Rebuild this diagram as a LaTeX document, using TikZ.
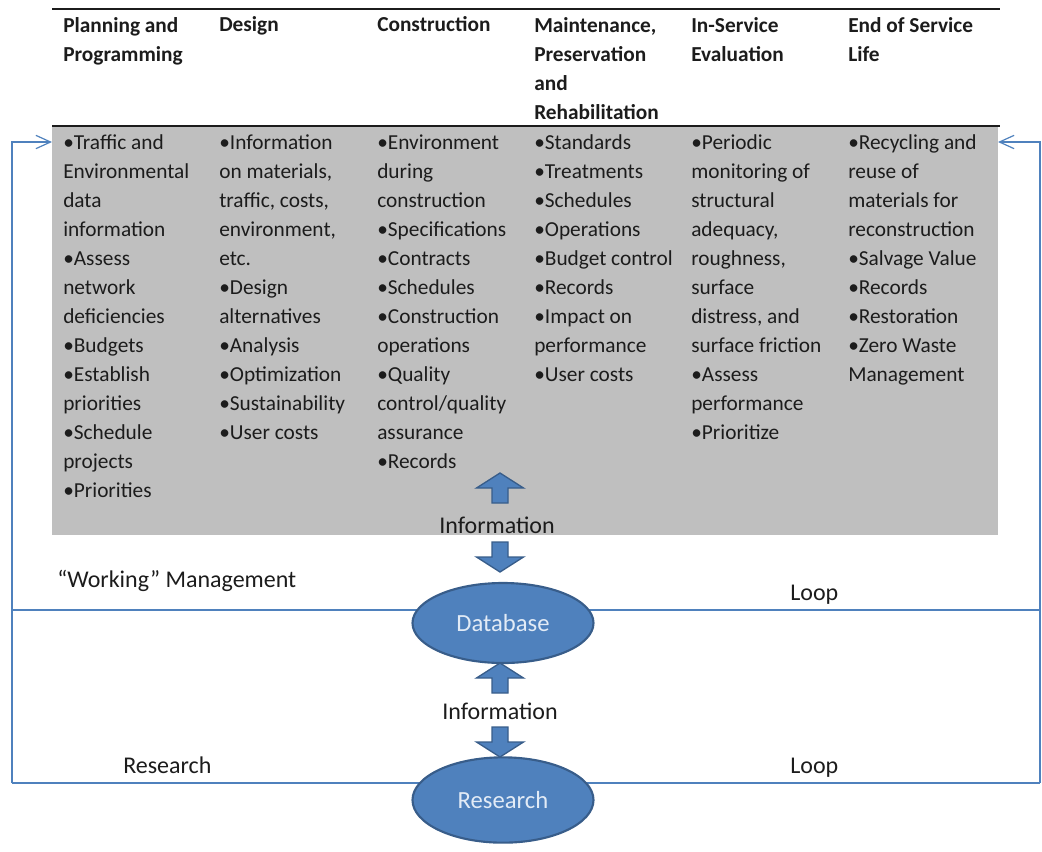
\documentclass[tikz,border=0pt]{standalone}
\usepackage{fontspec}
\setmainfont{Carlito}
\usetikzlibrary{shapes.geometric}
\usetikzlibrary{arrows.meta}
\definecolor{boxgray}{RGB}{191,191,191}
\definecolor{officeblue}{RGB}{79,129,189}
\definecolor{officeedge}{RGB}{56,93,138}
\definecolor{ellipsetext}{RGB}{226,235,246}
\definecolor{inktext}{RGB}{28,28,28}

\begin{document}
\begin{tikzpicture}[x=0.75pt, y=-0.75pt,
    colhead/.style={anchor=north west, inner sep=0pt, align=left, text=inktext,
        font=\fontsize{16}{21.75}\selectfont\bfseries, execute at begin node=\strut},
    colbody/.style={anchor=north west, inner sep=0pt, align=left, text=inktext,
        font=\fontsize{16}{21.75}\selectfont, execute at begin node=\strut},
    lbl/.style={anchor=base west, inner sep=0pt, text=inktext, font=\fontsize{18}{21}\selectfont},
    store/.style={ellipse, draw=officeedge, line width=1.6pt, fill=officeblue,
        text=ellipsetext, font=\fontsize{18.5}{21}\selectfont, minimum width=135.75pt},
    loopline/.style={draw=officeblue, line width=0.9pt},
    looparrow/.style={loopline, -{Straight Barb[length=11pt, width=10pt]}},
    blockarrow/.style={fill=officeblue, draw=officeedge, line width=1pt},
    infoarrow/.pic={\filldraw[blockarrow] (0,0) -- (23.5,15) -- (8,15) -- (8,30)
        -- (-8,30) -- (-8,15) -- (-23.5,15) -- cycle;}]
    \useasboundingbox (0,0) rectangle (1042,851);

    % shaded activity area
    \coordinate (boxnw) at (52,126);
    \coordinate (boxse) at (998,535);
    \fill[boxgray] (boxnw) rectangle (boxse);
    \draw[line width=1.5pt, inktext] (52,9) -- (1000,9);
    \draw[line width=1.5pt, inktext] (52,126) -- (1000,126);

    % column headings (first baseline at 31)
    \node[colhead] (h1) at (63,17.2) {Planning and\\Programming};
    \node[colhead] (h2) at (219,10.7) {Design};
    \node[colhead] (h3) at (377,10.7) {Construction};
    \node[colhead] (h4) at (534,17.2) {Maintenance,\\Preservation\\and\\Rehabilitation};
    \node[colhead] (h5) at (691,17.2) {In-Service\\Evaluation};
    \node[colhead] (h6) at (848,17.2) {End of Service\\Life};

    % column contents (first baseline at 148)
    \node[colbody] (b1) at (63,134.2) {•Traffic and\\Environmental\\data\\information\\•Assess\\network\\deficiencies\\•Budgets\\•Establish\\priorities\\•Schedule\\projects\\•Priorities};
    \node[colbody] (b2) at (219,134.2) {•Information\\on materials,\\traffic, costs,\\environment,\\etc.\\•Design\\alternatives\\•Analysis\\•Optimization\\•Sustainability\\•User costs};
    \node[colbody] (b3) at (377,134.2) {•Environment\\during\\construction\\•Specifications\\•Contracts\\•Schedules\\•Construction\\operations\\•Quality\\control/quality\\assurance\\•Records};
    \node[colbody] (b4) at (534,134.2) {•Standards\\•Treatments\\•Schedules\\•Operations\\•Budget control\\•Records\\•Impact on\\performance\\•User costs};
    \node[colbody] (b5) at (691,134.2) {•Periodic\\monitoring of\\structural\\adequacy,\\roughness,\\surface\\distress, and\\surface friction\\•Assess\\performance\\•Prioritize};
    \node[colbody] (b6) at (848,134.2) {•Recycling and\\reuse of\\materials for\\reconstruction\\•Salvage Value\\•Records\\•Restoration\\•Zero Waste\\Management};

    % loops
    \coordinate (lt) at (12,142);
    \coordinate (rt) at (1040,142);
    \coordinate (lm) at (12,610);
    \coordinate (rm) at (1040,610);
    \coordinate (lb) at (12,783);
    \coordinate (rb) at (1040,783);
    \draw[loopline] (lm) -- (rm);
    \draw[loopline] (lb) -- (rb);
    \draw[looparrow] (lb) -- (lt) -- (lt -| boxnw);
    \draw[looparrow] (rb) -- (rt) -- (rt -| boxse);

    \node[lbl] (wm) at (57,587) {“Working” Management};
    \node[lbl] (wloop) at (790,600) {Loop};
    \node[lbl] (rl) at (123,773) {Research};
    \node[lbl] (rloop) at (790,773) {Loop};

    % database and research
    \node[store, minimum height=60pt] (db) at (503,623) {Database};
    \node[store, minimum height=64pt] (rs) at (503,800) {Research};

    % information flow
    \node[lbl, anchor=base] (info1) at (497,533) {Information};
    \node[lbl, anchor=base] (info2) at (500,719) {Information};
    \pic at (500,473) {infoarrow};
    \pic[rotate=180] at (500,572) {infoarrow};
    \pic at (500,663) {infoarrow};
    \pic[rotate=180] at (500,757) {infoarrow};
\end{tikzpicture}
\end{document}
